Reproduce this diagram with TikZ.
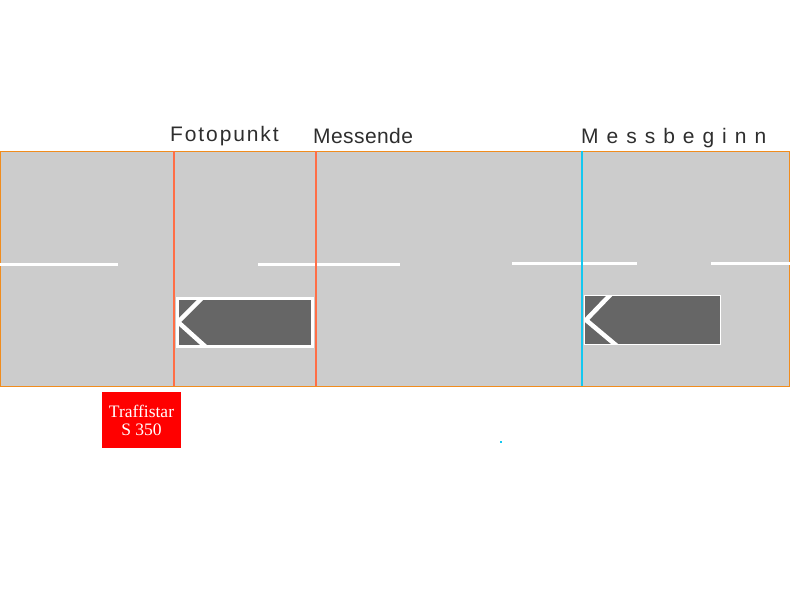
\documentclass[tikz,border=0pt]{standalone}
\usepackage{fontspec}
\setmainfont{Liberation Serif}
\setsansfont{Liberation Sans}
\definecolor{roadgray}{RGB}{204,204,204}
\definecolor{roadedge}{RGB}{240,140,30}
\definecolor{carbody}{RGB}{102,102,102}
\definecolor{photoline}{RGB}{255,110,70}
\definecolor{startline}{RGB}{20,200,240}
\definecolor{camred}{RGB}{255,0,0}
\tikzset{
	road/.style={fill=roadgray, draw=roadedge, line width=1pt},
	lanemark/.style={draw=white, line width=3pt},
	gate/.style={line width=2.4pt},
	car/.style={fill=carbody, draw=white},
	chevron/.style={draw=white, line width=4.5pt},
	gatelabel/.style={font=\sffamily\fontsize{21}{21}\selectfont, text=black!82, anchor=base west, inner sep=0pt},
	camlabel/.style={font=\rmfamily\fontsize{17.5}{18}\selectfont, text=white, align=center}
}
\begin{document}
\begin{tikzpicture}[x=1pt,y=-1pt]
		
		\useasboundingbox (0,0) rectangle (790,613);
		
		\draw[road] (0.5,151) rectangle (789.5,386);
		
		\draw[lanemark] (0,264) -- (118,264);
		\draw[lanemark] (258,264) -- (400,264);
		\draw[lanemark] (512,263) -- (637,263);
		\draw[lanemark] (711,263) -- (790,263);
		
		\draw[gate, photoline] (174,151) -- (174,386);
		\draw[gate, photoline] (316,151) -- (316,386);
		\draw[gate, startline] (582,151) -- (582,386);
		
		\draw[car, line width=3pt] (177,298) rectangle (312,346);
		\begin{scope}
			\clip (177,298) rectangle (312,346);
			\draw[chevron] (204,296) -- (178,322) -- (208,349);
		\end{scope}
		
		\draw[car, line width=1pt] (584.5,295.5) rectangle (720.5,344.5);
		\begin{scope}
			\clip (584.5,295.5) rectangle (720.5,344.5);
			\draw[chevron] (612,293) -- (586,320) -- (617,346);
		\end{scope}
		
		\node[gatelabel] (fotopunkt) at (170,141.5) {\addfontfeature{LetterSpace=9}Fotopunkt};
		\node[gatelabel] (messende) at (313,143) {\addfontfeature{LetterSpace=2}Messende};
		\node[gatelabel] (messbeginn) at (581,143) {\addfontfeature{LetterSpace=38}Messbeginn};
		
		\node[fill=camred, minimum width=79pt, minimum height=56pt, inner sep=0pt, camlabel] (traffistar) at (141.5,420) {Traffistar\\S 350};
		
		\fill[startline] (500,441) rectangle (502,443);
		
	\end{tikzpicture}
\end{document}
